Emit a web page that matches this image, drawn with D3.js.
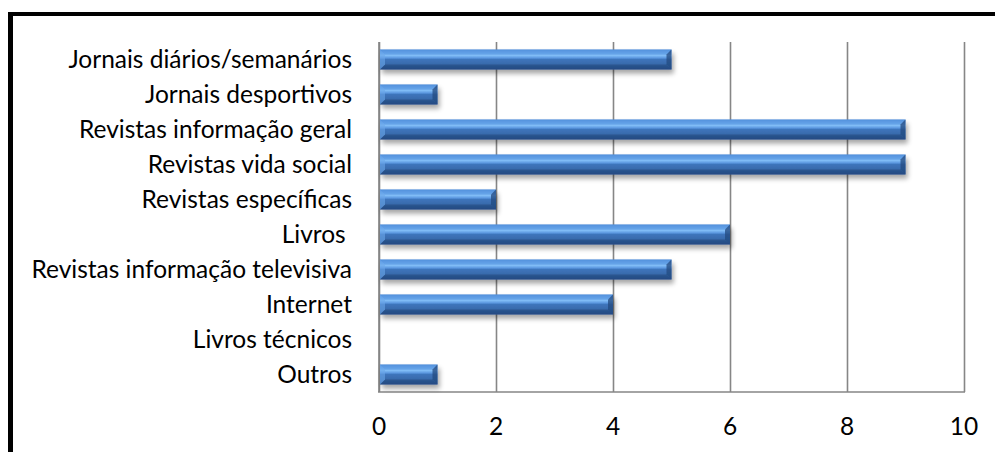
<!DOCTYPE html>
<html><head><meta charset="utf-8">
<script src="https://cdn.jsdelivr.net/npm/d3@7"></script>
<style>
html,body{margin:0;padding:0;background:#fff;}
svg{display:block;}
text{font-family:Lato,"Noto Sans",sans-serif;fill:#000;white-space:pre;}
</style></head>
<body>
<svg id="c" width="995" height="452"></svg>
<script>
const categories = ["Jornais diários/semanários","Jornais desportivos","Revistas informação geral","Revistas vida social","Revistas específicas","Livros ","Revistas informação televisiva","Internet","Livros técnicos","Outros"];
const values = [5,1,9,9,2,6,5,4,0,1];
const xTicks = [0,2,4,6,8,10];

const W=995,H=452;
const m={left:379,right:31,top:42,bottom:60};
const svg=d3.select("#c");
const defs=svg.append("defs");

const g=defs.append("linearGradient").attr("id","barg").attr("x1",0).attr("y1",0).attr("x2",0).attr("y2",1);
[[0,"#4a88d6"],[0.12,"#5d9ce6"],[0.3,"#80bcf6"],[0.42,"#5c98e0"],[0.5,"#3e74bb"],[0.8,"#3768a8"],[1,"#2a5390"]]
 .forEach(([o,c])=>g.append("stop").attr("offset",o).attr("stop-color",c));

const f=defs.append("filter").attr("id","sh").attr("x","-10%").attr("y","-50%").attr("width","130%").attr("height","250%");
f.append("feGaussianBlur").attr("in","SourceAlpha").attr("stdDeviation",2.5).attr("result","b");
f.append("feOffset").attr("in","b").attr("dx",2).attr("dy",4).attr("result","o");
f.append("feComponentTransfer").attr("in","o").attr("result","o2").append("feFuncA").attr("type","linear").attr("slope",0.35);
const fm=f.append("feMerge");fm.append("feMergeNode").attr("in","o2");fm.append("feMergeNode").attr("in","SourceGraphic");

const x=d3.scaleLinear().domain([0,10]).range([m.left,W-m.right]);
const y=d3.scaleBand().domain(categories).range([m.top,H-m.bottom]).paddingInner(0.43).paddingOuter(0.215);

// gridlines
const grid=svg.append("g").attr("transform",`translate(0,${H-m.bottom})`)
 .call(d3.axisBottom(x).tickValues(xTicks).tickSize(-(H-m.bottom-m.top)).tickFormat(""));
grid.select(".domain").remove();
grid.selectAll("line").attr("stroke","#868686").attr("stroke-width",1.6);

// axes lines
svg.append("line").attr("x1",x(0)).attr("x2",x(0)).attr("y1",m.top).attr("y2",H-m.bottom).attr("stroke","#868686").attr("stroke-width",1.6);
svg.append("line").attr("x1",x(0)-1).attr("x2",x(10)+1).attr("y1",H-m.bottom).attr("y2",H-m.bottom).attr("stroke","#868686").attr("stroke-width",1.6);

// bars
const bars=svg.append("g").selectAll("g").data(categories.map((c,i)=>({c,v:values[i]})).filter(d=>d.v>0)).join("g").attr("filter","url(#sh)");
const b=5;
bars.each(function(d){
  const s=d3.select(this);
  const x0=x(0)+1,x1=x(d.v),y0=y(d.c),y1=y0+y.bandwidth();
  s.append("rect").attr("x",x0).attr("y",y0).attr("width",x1-x0).attr("height",y1-y0).attr("fill","url(#barg)");
  s.append("polygon").attr("points",[[x0,y0],[x1,y0],[x1-b,y0+b],[x0+b,y0+b]].join(" ")).attr("fill","#5c9ae2").attr("opacity",0.5);
  s.append("polygon").attr("points",[[x0,y1],[x1,y1],[x1-b,y1-b],[x0+b,y1-b]].join(" ")).attr("fill","#1f4478").attr("opacity",0.55);
  s.append("polygon").attr("points",[[x0,y0],[x0+b,y0+b],[x0+b,y1-b],[x0,y1]].join(" ")).attr("fill","#6aa6ea").attr("opacity",0.6);
  s.append("polygon").attr("points",[[x1,y0],[x1-b,y0+b],[x1-b,y1-b],[x1,y1]].join(" ")).attr("fill","#23497f").attr("opacity",0.75);
});

// category labels
svg.append("g").selectAll("text").data(categories).join("text")
 .attr("x",352).attr("y",d=>y(d)+y.bandwidth()/2).attr("dy","0.35em")
 .attr("text-anchor","end").attr("font-size",24.5).text(d=>d);

// tick labels
svg.append("g").selectAll("text").data(xTicks).join("text")
 .attr("x",d=>x(d)).attr("y",426).attr("dy","0.35em").attr("text-anchor","middle").attr("font-size",24.5).text(d=>d);

// border
svg.append("line").attr("x1",8).attr("x2",W).attr("y1",14).attr("y2",14).attr("stroke","#000").attr("stroke-width",4);
svg.append("line").attr("x1",10.5).attr("x2",10.5).attr("y1",12).attr("y2",H).attr("stroke","#000").attr("stroke-width",5);
</script>
</body></html>
